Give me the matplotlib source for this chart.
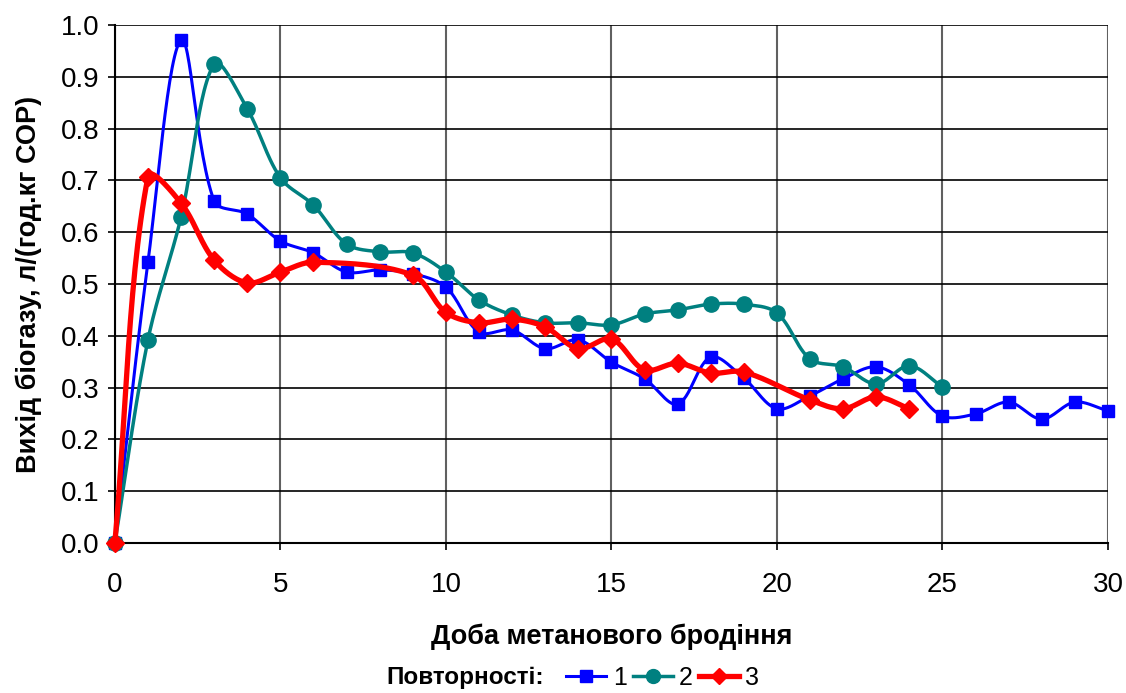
import numpy as np
import matplotlib
matplotlib.use("Agg")
import matplotlib.pyplot as plt
from matplotlib.lines import Line2D

plt.rcParams['font.family'] = ['Liberation Sans', 'DejaVu Sans']

days1 = list(range(0, 31))
yield1 = [0.0, 0.542, 0.971, 0.660, 0.635, 0.583, 0.560, 0.523, 0.527, 0.520,
          0.494, 0.407, 0.411, 0.375, 0.392, 0.349, 0.317, 0.268, 0.359, 0.318,
          0.259, 0.284, 0.317, 0.340, 0.305, 0.245, 0.249, 0.272, 0.239, 0.272,
          0.255]

days2 = list(range(0, 26))
yield2 = [0.0, 0.392, 0.629, 0.925, 0.838, 0.705, 0.652, 0.577, 0.562, 0.560,
          0.523, 0.469, 0.440, 0.425, 0.425, 0.421, 0.442, 0.450, 0.461, 0.461,
          0.444, 0.355, 0.340, 0.307, 0.342, 0.301]

days3 = [0, 1, 2, 3, 4, 5, 6, 9, 10, 11, 12, 13, 14, 15, 16, 17, 18, 19, 21, 22, 23, 24]
yield3 = [0.0, 0.707, 0.656, 0.546, 0.502, 0.523, 0.542, 0.517, 0.445, 0.425,
          0.432, 0.417, 0.375, 0.394, 0.334, 0.347, 0.328, 0.330, 0.276, 0.259,
          0.282, 0.259]

SX, SY = 33.1, 518.0  # screen scaling (px per unit) used for the smoothing


def smooth(x, y, n=30):
    # Excel-like smoothed line: Bezier segments with tangents split by segment length
    p = np.column_stack([np.asarray(x, float) * SX, np.asarray(y, float) * SY])
    m = len(p)
    cout = np.zeros_like(p)
    cin = np.zeros_like(p)
    for i in range(m):
        if i == 0:
            d = p[1] - p[0]
            cout[i] = p[i] + d / 3
            continue
        if i == m - 1:
            d = p[i] - p[i - 1]
            cin[i] = p[i] - d / 3
            continue
        d = p[i + 1] - p[i - 1]
        lp = np.hypot(*(p[i] - p[i - 1]))
        ln = np.hypot(*(p[i + 1] - p[i]))
        cout[i] = p[i] + d * ln / (lp + ln) / 3
        cin[i] = p[i] - d * lp / (lp + ln) / 3
    t = np.linspace(0, 1, n)[:, None]
    pts = []
    for i in range(m - 1):
        b = (1 - t) ** 3 * p[i] + 3 * (1 - t) ** 2 * t * cout[i] \
            + 3 * (1 - t) * t ** 2 * cin[i + 1] + t ** 3 * p[i + 1]
        pts.append(b)
    pts = np.vstack(pts)
    return pts[:, 0] / SX, pts[:, 1] / SY


fig = plt.figure(figsize=(11.26, 6.93), dpi=100)
ax = fig.add_axes([0.102, 0.2165, 0.882, 0.7475])

series = [
    (days1, yield1, '#0000FF', 's', 2.2, 9, 1),
    (days2, yield2, '#008080', 'o', 2.5, 11, 2),
    (days3, yield3, '#FF0000', 'D', 3.8, 9, 3),
]
for d, v, c, m, lw, ms, z in series:
    sx, sy = smooth(d, v)
    ax.plot(sx, sy, color=c, lw=lw, zorder=3 + z, clip_on=False)
    ax.plot(d, v, ls='none', marker=m, color=c, ms=ms, zorder=3 + z, clip_on=False)

ax.set_xlim(0, 30)
ax.set_ylim(0, 1.0)
ax.set_xticks(range(0, 31, 5))
ax.set_yticks(np.arange(0, 1.01, 0.1))
ax.set_yticklabels([f'{v:.1f}' for v in np.arange(0, 1.01, 0.1)])
ax.grid(True, axis='y', color='black', lw=1.2)
ax.grid(True, axis='x', color='#606060', lw=1.5)
ax.set_axisbelow(True)
for s in ['top', 'right']:
    ax.spines[s].set_visible(False)
ax.spines['left'].set_linewidth(1.5)
ax.spines['bottom'].set_linewidth(1.5)
ax.tick_params(axis='both', labelsize=20, length=5, width=1.2)
ax.tick_params(axis='x', pad=16)
ax.tick_params(axis='y', pad=6)

ax.set_xlabel('Доба метанового бродіння', fontsize=19.5, fontweight='bold', labelpad=18)
ax.set_ylabel('Вихід біогазу, л/(год.кг СОР)', fontsize=19.5, fontweight='bold', labelpad=14)

fig.text(0.343, 0.022, 'Повторності:', fontsize=17.5, fontweight='bold', va='center')
handles = [
    Line2D([], [], color='#0000FF', marker='s', lw=2.2, ms=8),
    Line2D([], [], color='#008080', marker='o', lw=2.5, ms=10),
    Line2D([], [], color='#FF0000', marker='D', lw=3.8, ms=8),
]
fig.legend(handles, ['1', '2', '3'], loc='center left', bbox_to_anchor=(0.503, 0.022),
           ncol=3, frameon=False, fontsize=18, handlelength=1.6, handletextpad=0.25,
           columnspacing=0.25, borderaxespad=0, borderpad=0)

fig.savefig('out.png', dpi=100)
